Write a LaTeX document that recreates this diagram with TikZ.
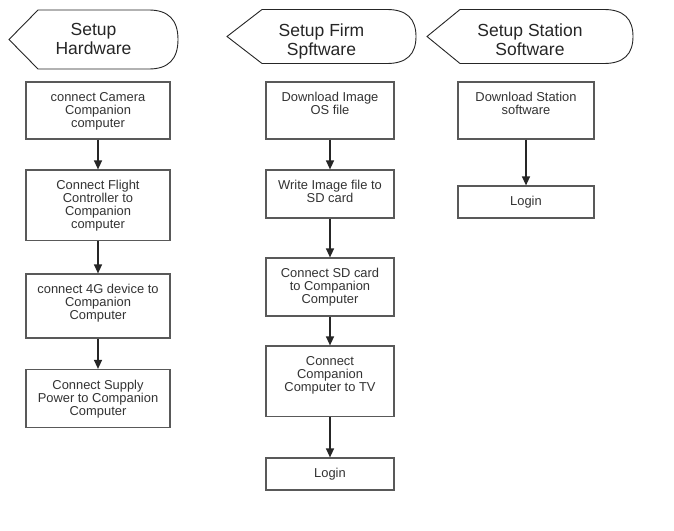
\documentclass[tikz,border=0pt]{standalone}
\usepackage{fontspec}
\setmainfont{Liberation Sans}
\usetikzlibrary{arrows.meta}
\tikzset{
  hdr/.style={draw=black!85, line width=0.9pt, fill=white},
  hdrtext/.style={font=\fontsize{17.5}{19}\selectfont, text=black!85, align=center, inner sep=0pt, anchor=north},
  box/.style={draw=black!65, line width=1.2pt, rectangle, inner sep=0pt, fill=white},
  boxtext/.style={font=\fontsize{12.9}{13}\selectfont, text=black!80, align=center, inner sep=0pt, anchor=north},
  arr/.style={-{Triangle[width=8pt,length=9pt]}, line width=1.3pt, draw=black!85},
}
\begin{document}
\begin{tikzpicture}[x=1pt,y=-1pt]
\useasboundingbox[fill=white] (0,0) rectangle (674,530);

% headers
\draw[hdr] (9,39.5) -- (38,10) -- (149,10) .. controls (168.33,10) and (178,19.83) .. (178,39.5)
  .. controls (178,59.17) and (168.33,69) .. (149,69) -- (38,69) -- cycle;
\node[hdrtext] (h1) at (93.5,23.5) {Setup\\Hardware};

\draw[hdr] (227,36.5) -- (262,9.5) -- (387,9.5) .. controls (406.33,9.5) and (416,18.5) .. (416,36.5)
  .. controls (416,54.5) and (406.33,63.5) .. (387,63.5) -- (262,63.5) -- cycle;
\node[hdrtext] (h2) at (321.5,23.5) {Setup Firm\\Spftware};

\draw[hdr] (427,36.5) -- (460,9.5) -- (604,9.5) .. controls (623.33,9.5) and (633,18.5) .. (633,36.5)
  .. controls (633,54.5) and (623.33,63.5) .. (604,63.5) -- (460,63.5) -- cycle;
\node[hdrtext] (h3) at (530,23.5) {Setup Station\\Software};

% column 1
\node[box, minimum width=144pt, minimum height=57pt] (a1) at (98,110.5) {};
\node[box, minimum width=144pt, minimum height=70.5pt] (a2) at (98,205.25) {};
\node[box, minimum width=144pt, minimum height=64pt] (a3) at (98,306) {};
\node[box, minimum width=144pt, minimum height=58pt] (a4) at (98,398.5) {};
\node[boxtext] (a1t) at ([yshift=-11pt]a1.north) {connect Camera\\Companion\\computer};
\node[boxtext] (a2t) at ([yshift=-11pt]a2.north) {Connect Flight\\Controller to\\Companion\\computer};
\node[boxtext] (a3t) at ([yshift=-11pt]a3.north) {connect 4G device to\\Companion\\Computer};
\node[boxtext] (a4t) at ([yshift=-11pt]a4.north) {Connect Supply\\Power to Companion\\Computer};

% column 2
\node[box, minimum width=128pt, minimum height=57pt] (b1) at (330,110.5) {};
\node[box, minimum width=128pt, minimum height=48pt] (b2) at (330,194) {};
\node[box, minimum width=128pt, minimum height=58pt] (b3) at (330,287) {};
\node[box, minimum width=128pt, minimum height=70.5pt] (b4) at (330,381.25) {};
\node[box, minimum width=128pt, minimum height=32pt] (b5) at (330,474) {};
\node[boxtext] (b1t) at ([yshift=-11pt]b1.north) {Download Image\\OS file};
\node[boxtext] (b2t) at ([yshift=-11pt]b2.north) {Write Image file to\\SD card};
\node[boxtext] (b3t) at ([yshift=-11pt]b3.north) {Connect SD card\\to Companion\\Computer};
\node[boxtext] (b4t) at ([yshift=-11pt]b4.north) {Connect\\Companion\\Computer to TV};
\node[boxtext] (b5t) at ([yshift=-11pt]b5.north) {Login};

% column 3
\node[box, minimum width=136pt, minimum height=57pt] (c1) at (526,110.5) {};
\node[box, minimum width=136pt, minimum height=32pt] (c2) at (526,202) {};
\node[boxtext] (c1t) at ([yshift=-11pt]c1.north) {Download Station\\software};
\node[boxtext] (c2t) at ([yshift=-11pt]c2.north) {Login};

% arrows
\draw[arr] (a1.south) -- (a2.north);
\draw[arr] (a2.south) -- (a3.north);
\draw[arr] (a3.south) -- (a4.north);
\draw[arr] (b1.south) -- (b2.north);
\draw[arr] (b2.south) -- (b3.north);
\draw[arr] (b3.south) -- (b4.north);
\draw[arr] (b4.south) -- (b5.north);
\draw[arr] (c1.south) -- (c2.north);
\end{tikzpicture}
\end{document}
